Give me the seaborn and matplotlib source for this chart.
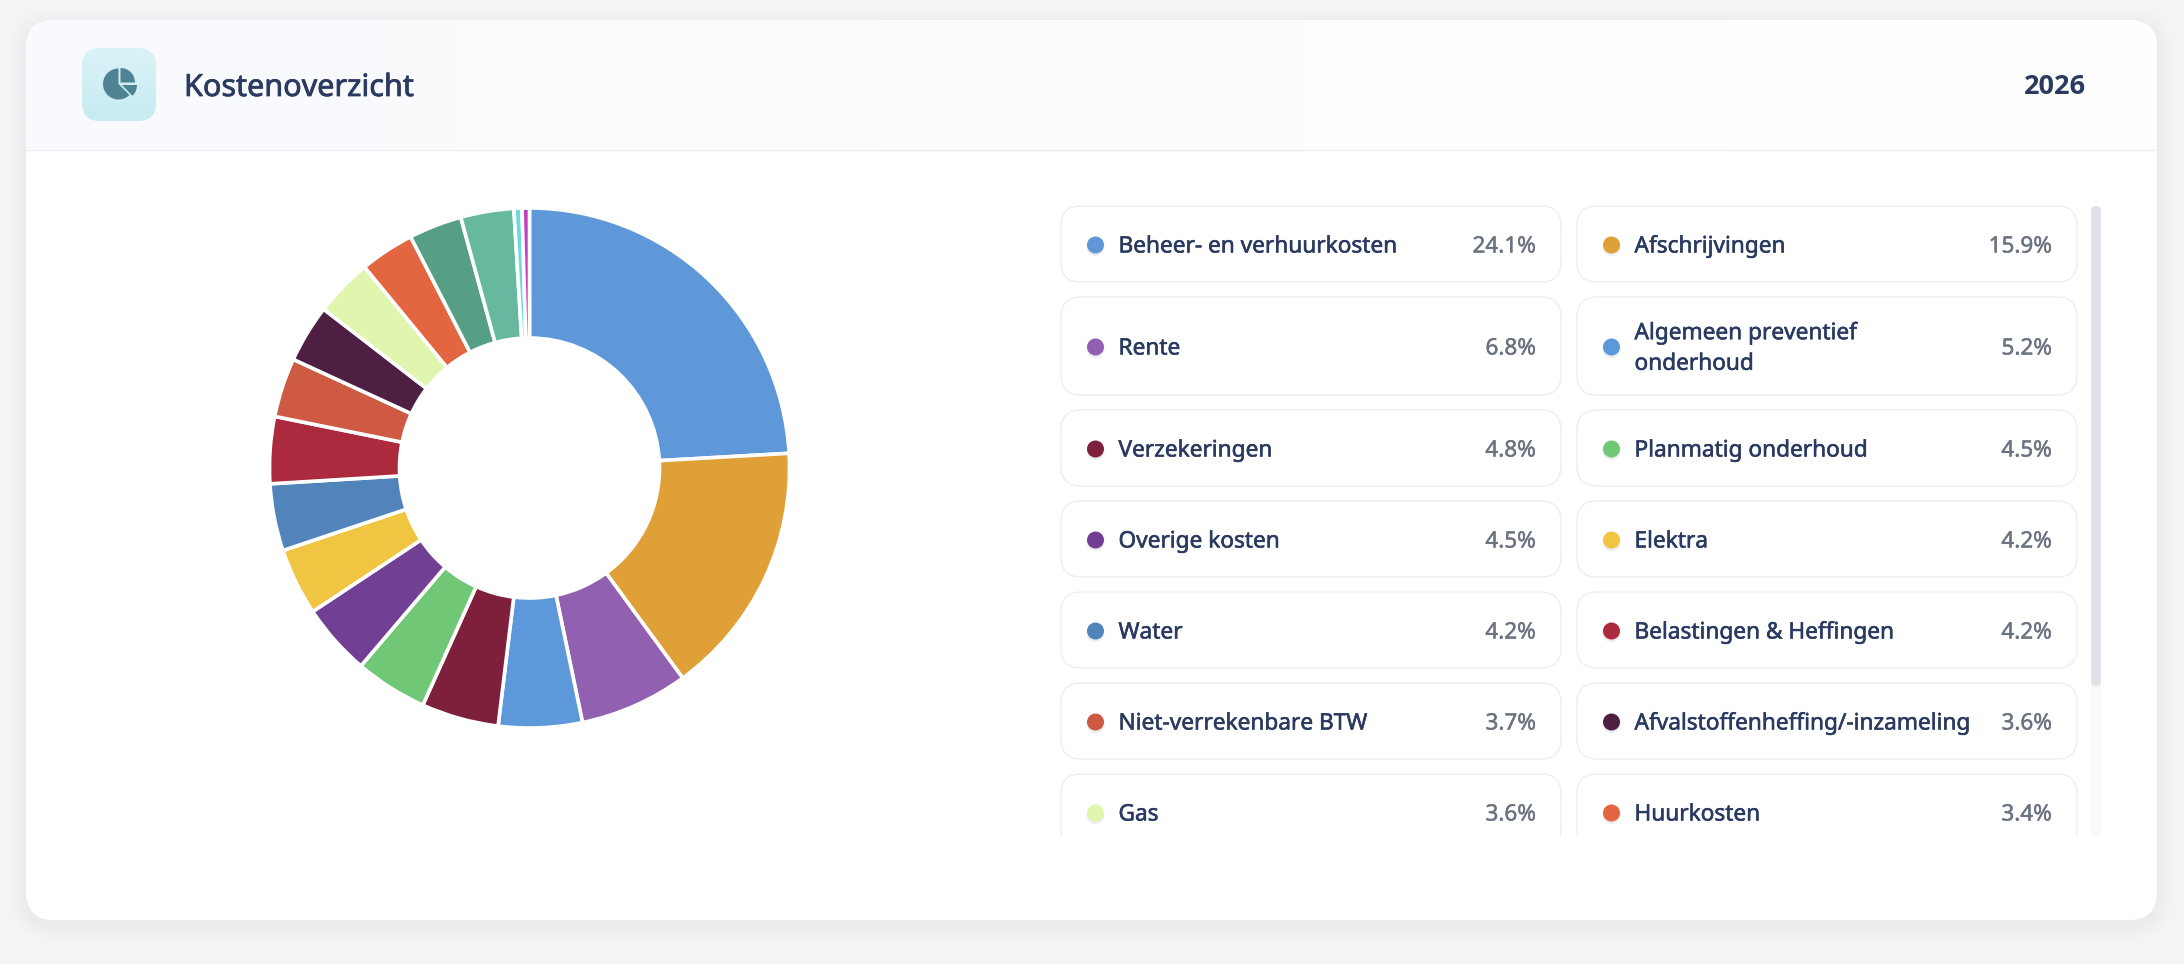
import numpy as np
import matplotlib
matplotlib.use("Agg")
import matplotlib.pyplot as plt
import matplotlib.patheffects as pe
from matplotlib.patches import FancyBboxPatch, Rectangle, Circle, Wedge
import seaborn as sns

W, H = 2184, 964

categories = ["Beheer- en verhuurkosten", "Afschrijvingen", "Rente",
              "Algemeen preventief\nonderhoud", "Verzekeringen", "Planmatig onderhoud",
              "Overige kosten", "Elektra", "Water", "Belastingen & Heffingen",
              "Niet-verrekenbare BTW", "Afvalstoffenheffing/-inzameling", "Gas", "Huurkosten",
              "Schoonmaak", "Groenonderhoud", "Overig", "Diversen"]
values = [24.1, 15.87, 6.76, 5.2, 4.8, 4.5, 4.46, 4.17, 4.17, 4.15, 3.68, 3.6, 3.6, 3.38,
          3.3, 3.3, 0.5, 0.46]
colors = ["#5F98D8", "#E0A038", "#9160B0", "#5C98DA", "#7E1F3C", "#70C877",
          "#713F94", "#F0C542", "#5284BC", "#AC2A3E", "#CE5A44", "#4E1F43",
          "#E0F5AE", "#E46640", "#569F84", "#66B89E", "#6CD8E0", "#C040C0"]
title = "Kostenoverzicht"
year = "2026"
visible_items = 14

sns.set_theme(style="white")
plt.rcParams["font.family"] = ["Noto Sans", "DejaVu Sans"]
palette = sns.color_palette(colors)

NAVY, GREY, BORDER = "#2A3A60", "#6B7280", "#EDEEF1"

fig = plt.figure(figsize=(W / 100, H / 100), dpi=100, facecolor="#F3F4F6")
bg = fig.add_axes([0, 0, 1, 1])
bg.set_xlim(0, W); bg.set_ylim(H, 0); bg.axis("off")


def rbox(x0, y0, x1, y1, r, ax=bg, **kw):
    p = FancyBboxPatch((x0 + r, y0 + r), x1 - x0 - 2 * r, y1 - y0 - 2 * r,
                       boxstyle=f"round,pad={r},rounding_size={r}", **kw)
    ax.add_patch(p)
    return p


def medium(color, w=0.4):
    return [pe.withStroke(linewidth=w, foreground=color)]


# card with soft shadow
for g in range(16, 0, -2):
    rbox(26 - g, 20 - g + 4, 2157 + g, 920 + g + 4, 28 + g, fc="black", ec="none", alpha=.0045)
card = rbox(26, 20, 2157, 920, 28, fc="white", ec="none")

# header gradient
grad = np.linspace(0, 1, 256)[None, :, None]
c0, c1 = np.array([249, 250, 253]) / 255, np.array([255, 255, 255]) / 255
img = bg.imshow(c0 + (c1 - c0) * grad, extent=(26, 2157, 149, 20), aspect="auto",
                zorder=1, interpolation="bilinear")
img.set_clip_path(card)
bg.set_xlim(0, W); bg.set_ylim(H, 0)
bg.plot([26, 2157], [149.5, 149.5], color="#ECEEF1", lw=1, zorder=2)

# icon tile
tile = rbox(82, 48, 156, 121, 18, fc="none", ec="none", zorder=2)
g2 = np.linspace(0, 1, 128)[:, None, None]
t0, t1 = np.array([219, 243, 247]) / 255, np.array([198, 235, 242]) / 255
timg = bg.imshow(t0 + (t1 - t0) * g2, extent=(82, 156, 121, 48), aspect="auto", zorder=2)
timg.set_clip_path(tile)
bg.set_xlim(0, W); bg.set_ylim(H, 0)
ic = "#4F8293"
bg.add_patch(Wedge((118.5, 84), 15.5, 45, 270, fc=ic, ec="none", zorder=3))
bg.add_patch(Wedge((120.5, 82.5), 14.5, 270, 360, fc=ic, ec="none", zorder=3))
bg.add_patch(Wedge((122, 85), 15, 0, 46, fc=ic, ec="none", zorder=3))

bg.text(184, 88, title, fontsize=22, color=NAVY, va="center", ha="left", zorder=3,
        path_effects=medium(NAVY, 0.55))
bg.text(2086, 87, year, fontsize=19.5, family="Open Sans", fontweight="bold", color=NAVY,
        va="center", ha="right", zorder=3)

# donut
cx, cy, R = 529.5, 468, 260
ax = fig.add_axes([(cx - R) / W, 1 - (cy + R) / H, 2 * R / W, 2 * R / H])
ax.set_facecolor("none")
ax.pie(values, colors=palette, startangle=90, counterclock=False, radius=1,
       wedgeprops=dict(width=0.5, edgecolor="white", linewidth=2.6))
ax.set_xlim(-1, 1); ax.set_ylim(-1, 1)

# legend grid, clipped like a scroll area
clip = Rectangle((1040, 190), 1080, 646, transform=bg.transData)
tops = [206, 297, 410, 501, 592, 683, 774]
bots = [282, 395, 486, 577, 668, 759, 850]
cols = [(1061, 1561), (1577, 2077)]
for i in range(visible_items):
    r, c = divmod(i, 2)
    y0, y1 = tops[r], bots[r]
    x0, x1 = cols[c]
    ym = (y0 + y1) / 2 + 1
    p = rbox(x0, y0, x1, y1, 20, fc="white", ec=BORDER, lw=1.0, zorder=4)
    p.set_clip_path(clip)
    s = Circle((x0 + 34.5, ym + 2), 9, fc="#000000", ec="none", alpha=.07, zorder=5)
    d = Circle((x0 + 34.5, ym), 8.5, fc=palette[i], ec="none", zorder=6)
    for a_ in (s, d):
        bg.add_patch(a_)
        a_.set_clip_path(clip)
    bg.text(x0 + 57.5, ym + 2, categories[i], fontsize=16.3, color=NAVY, va="center", ha="left",
            linespacing=1.6, zorder=6, path_effects=medium(NAVY)).set_clip_path(clip)
    bg.text(x1 - 25, ym + 2, f"{values[i]:.1f}%", fontsize=16.2, color=GREY,
            va="center", ha="right", zorder=6, path_effects=medium(GREY, 0.3)).set_clip_path(clip)

# scrollbar
rbox(2091, 206, 2101, 836, 5, fc="#F8F9FB", ec="none", zorder=4)
rbox(2091, 206, 2101, 686, 5, fc="#DFE2E7", ec="none", zorder=5)

fig.savefig("out.png", dpi=100, facecolor=fig.get_facecolor())
